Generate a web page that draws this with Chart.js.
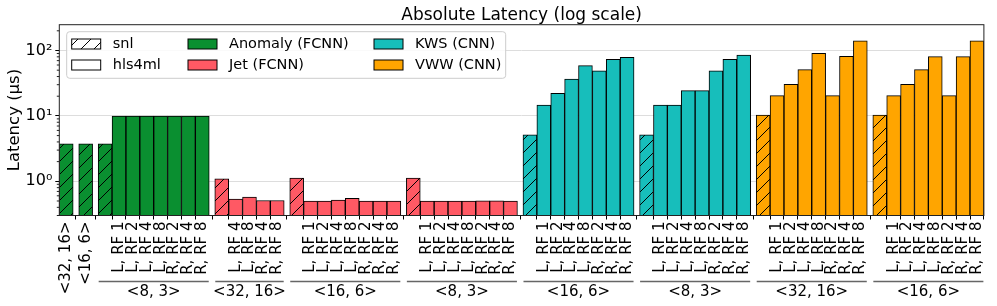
<!DOCTYPE html>
<html><head><meta charset="utf-8">
<script src="https://cdn.jsdelivr.net/npm/chart.js@4.4.1/dist/chart.umd.min.js"></script>
<style>html,body{margin:0;padding:0;background:#fff;}#wrap{width:997px;height:306px;}</style>
</head><body><div id="wrap"><canvas id="c" width="997" height="306"></canvas></div>
<script>
// ---------- data ----------
const chartTitle = 'Absolute Latency (log scale)';
const netNames = ['Anomaly (FCNN)', 'Jet (FCNN)', 'KWS (CNN)', 'VWW (CNN)'];
const netColors = ['#0A8F30', '#FF5964', '#17BEBB', '#FFA500'];
const rfLabels = ['L, RF 1', 'L, RF 2', 'L, RF 4', 'L, RF 8', 'R, RF 2', 'R, RF 4', 'R, RF 8'];
const jetRfLabels3216 = ['L, RF 4', 'L, RF 8', 'R, RF 4', 'R, RF 8'];

const anomalySnl = [3.74, 3.74, 3.74];          // <32,16>, <16,6>, <8,3>
const anomalyHls83 = [9.9, 9.9, 9.9, 9.9, 9.9, 9.9, 9.9];
const jetSnl = [1.09, 1.12, 1.12];              // <32,16>, <16,6>, <8,3>
const jetHls3216 = [0.535, 0.574, 0.509, 0.509];
const jetHls166 = [0.50, 0.50, 0.515, 0.55, 0.50, 0.50, 0.50];
const jetHls83 = [0.50, 0.50, 0.50, 0.50, 0.505, 0.505, 0.50];
const kwsSnl = [5.13, 5.13];                    // <16,6>, <8,3>
const kwsHls166 = [14.7, 22.2, 36.7, 58.6, 48.7, 73.4, 78.8];
const kwsHls83 = [14.7, 14.7, 24.3, 24.3, 48.7, 73.4, 85.3];
const vwwSnl = [10.3, 10.3];                    // <32,16>, <16,6>
const vwwHls3216 = [20.4, 30.5, 50.9, 90.6, 20.4, 81.5, 141];
const vwwHls166 = [20.4, 30.5, 50.9, 80.4, 20.4, 80.4, 141];

const majorTicks = [1, 10, 100];
const majorTickLabels = ['10\u2070', '10\u00B9', '10\u00B2'];

// groups: net index, config label, snl value, hls values, hls labels, whether config is the tick label
const groups = [
  {net: 0, cfg: '<32, 16>', snl: anomalySnl[0], hls: [], labels: [], inline: true},
  {net: 0, cfg: '<16, 6>', snl: anomalySnl[1], hls: [], labels: [], inline: true},
  {net: 0, cfg: '<8, 3>', snl: anomalySnl[2], hls: anomalyHls83, labels: rfLabels},
  {net: 1, cfg: '<32, 16>', snl: jetSnl[0], hls: jetHls3216, labels: jetRfLabels3216},
  {net: 1, cfg: '<16, 6>', snl: jetSnl[1], hls: jetHls166, labels: rfLabels},
  {net: 1, cfg: '<8, 3>', snl: jetSnl[2], hls: jetHls83, labels: rfLabels},
  {net: 2, cfg: '<16, 6>', snl: kwsSnl[0], hls: kwsHls166, labels: rfLabels},
  {net: 2, cfg: '<8, 3>', snl: kwsSnl[1], hls: kwsHls83, labels: rfLabels},
  {net: 3, cfg: '<32, 16>', snl: vwwSnl[0], hls: vwwHls3216, labels: rfLabels},
  {net: 3, cfg: '<16, 6>', snl: vwwSnl[1], hls: vwwHls166, labels: rfLabels}
];

// ---------- build ----------
const canvas = document.getElementById('c');
const ctx = canvas.getContext('2d');
const FONT = "'DejaVu Sans', sans-serif";
Chart.defaults.font.family = FONT;

function hatch(color) {
  const s = 13;
  const c = document.createElement('canvas');
  c.width = s; c.height = s;
  const g = c.getContext('2d');
  g.fillStyle = color; g.fillRect(0, 0, s, s);
  g.strokeStyle = '#000'; g.lineWidth = 1;
  g.beginPath();
  g.moveTo(0, s); g.lineTo(s, 0);
  g.moveTo(-2, 2); g.lineTo(2, -2);
  g.moveTo(s - 2, s + 2); g.lineTo(s + 2, s - 2);
  g.stroke();
  return ctx.createPattern(c, 'repeat');
}
const hatchPatterns = netColors.map(hatch);
const hatchWhite = hatch('#ffffff');

const GAP = 0.4;
const positions = [], points = [], colors = [], tickLabels = [], spans = [];
let pos = 0;
groups.forEach(g => {
  const start = pos;
  positions.push(pos); points.push({x: pos, y: g.snl});
  colors.push(hatchPatterns[g.net]); tickLabels.push(g.inline ? g.cfg : '');
  pos += 1;
  g.hls.forEach((v, i) => {
    positions.push(pos); points.push({x: pos, y: v});
    colors.push(netColors[g.net]); tickLabels.push(g.labels[i]);
    pos += 1;
  });
  spans.push({start: start, end: pos - 1, label: g.inline ? '' : g.cfg});
  pos += GAP;
});
const lastPos = positions[positions.length - 1];

// ---------- plugins ----------
const framePlugin = {
  id: 'frame',
  afterDatasetsDraw(chart) {
    const a = chart.chartArea, c = chart.ctx;
    c.save();
    c.strokeStyle = '#222'; c.lineWidth = 1;
    c.strokeRect(a.left, a.top, a.right - a.left, a.bottom - a.top);
    const y = chart.scales.y;
    c.beginPath();
    for (let d = -1; d <= 2; d++) {
      for (let k = 2; k <= 9; k++) {
        const v = k * Math.pow(10, d);
        if (v < y.min || v > y.max) continue;
        const py = y.getPixelForValue(v);
        c.moveTo(a.left - 2.5, py); c.lineTo(a.left, py);
      }
    }
    c.stroke();
    c.fillStyle = '#000'; c.font = '17px ' + FONT;
    c.textAlign = 'center'; c.textBaseline = 'alphabetic';
    c.fillText(chartTitle, (a.left + a.right) / 2, 20);
    c.restore();
  }
};

const groupPlugin = {
  id: 'groups',
  afterDraw(chart) {
    const xs = chart.scales.x, a = chart.chartArea, c = chart.ctx;
    c.save();
    spans.forEach(s => {
      if (!s.label) return;
      const x1 = xs.getPixelForValue(s.start - 0.5) + 0.5;
      const x2 = xs.getPixelForValue(s.end + 0.5) - 0.5;
      c.strokeStyle = '#666'; c.lineWidth = 1.5;
      c.beginPath(); c.moveTo(x1, a.bottom + 66); c.lineTo(x2, a.bottom + 66); c.stroke();
      c.fillStyle = '#000'; c.font = '15px ' + FONT;
      c.textAlign = 'center'; c.textBaseline = 'middle';
      c.fillText(s.label, (x1 + x2) / 2, a.bottom + 77);
    });
    c.restore();
  }
};

const legendPlugin = {
  id: 'customLegend',
  afterDraw(chart) {
    const a = chart.chartArea, c = chart.ctx;
    const L = a.left, T = a.top;
    c.save();
    const bx = L + 7.4, by = T + 7, bw = 439, bh = 46.6, r = 3;
    c.beginPath();
    c.moveTo(bx + r, by); c.lineTo(bx + bw - r, by); c.arcTo(bx + bw, by, bx + bw, by + r, r);
    c.lineTo(bx + bw, by + bh - r); c.arcTo(bx + bw, by + bh, bx + bw - r, by + bh, r);
    c.lineTo(bx + r, by + bh); c.arcTo(bx, by + bh, bx, by + bh - r, r);
    c.lineTo(bx, by + r); c.arcTo(bx, by, bx + r, by, r);
    c.closePath();
    c.fillStyle = 'rgba(255,255,255,0.85)'; c.fill();
    c.strokeStyle = '#cccccc'; c.lineWidth = 1; c.stroke();
    const items = [
      {col: 0, row: 0, fill: hatchWhite, text: 'snl'},
      {col: 0, row: 1, fill: '#ffffff', text: 'hls4ml'},
      {col: 1, row: 0, fill: netColors[0], text: netNames[0]},
      {col: 1, row: 1, fill: netColors[1], text: netNames[1]},
      {col: 2, row: 0, fill: netColors[2], text: netNames[2]},
      {col: 2, row: 1, fill: netColors[3], text: netNames[3]}
    ];
    const colX = [12.4, 128.7, 314.7], rowY = [19.3, 40.3];
    c.font = '14.5px ' + FONT; c.textBaseline = 'middle'; c.textAlign = 'left';
    items.forEach(it => {
      const sx = L + colX[it.col], sy = T + rowY[it.row];
      c.fillStyle = it.fill; c.fillRect(sx, sy - 5, 29, 10);
      c.strokeStyle = '#000'; c.lineWidth = 1; c.strokeRect(sx, sy - 5, 29, 10);
      c.fillStyle = '#000'; c.fillText(it.text, sx + 41, sy);
    });
    c.restore();
  }
};

new Chart(ctx, {
  type: 'bar',
  data: {
    datasets: [{
      data: points,
      backgroundColor: colors,
      borderColor: '#000',
      borderWidth: 1,
      barPercentage: 1,
      categoryPercentage: 1
    }]
  },
  options: {
    responsive: false,
    animation: false,
    layout: {padding: {left: 0, right: 6.7, top: 24.7, bottom: 0}},
    plugins: {
      legend: {display: false},
      tooltip: {enabled: false},
      title: {display: false}
    },
    scales: {
      x: {
        type: 'linear', min: -0.5, max: lastPos + 0.5, offset: false,
        afterBuildTicks: s => { s.ticks = positions.map(v => ({value: v})); },
        afterFit: s => { s.height = 90.5; },
        ticks: {autoSkip: false, minRotation: 90, maxRotation: 90, padding: 2, color: '#000',
          font: {size: 15}, callback: (v, i) => tickLabels[i]},
        grid: {drawOnChartArea: false, drawTicks: true, tickLength: 4, tickColor: '#000'},
        border: {display: false}
      },
      y: {
        type: 'logarithmic', min: 0.3, max: 248,
        afterBuildTicks: s => { s.ticks = majorTicks.map(v => ({value: v, major: true})); },
        afterFit: s => { s.width = 59.3; },
        ticks: {color: '#000', font: {size: 16}, padding: 3,
          callback: v => majorTickLabels[majorTicks.indexOf(v)]},
        grid: {color: '#dddddd', tickColor: '#000', tickLength: 4, lineWidth: 1},
        border: {display: false},
        title: {display: true, text: 'Latency (\u00B5s)', color: '#000', font: {size: 16.5},
          padding: {top: 5, bottom: 0}}
      }
    }
  },
  plugins: [framePlugin, groupPlugin, legendPlugin]
});
</script></body></html>
